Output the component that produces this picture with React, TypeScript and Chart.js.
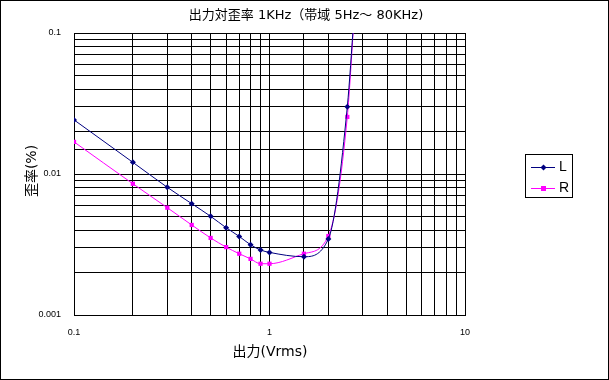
import React, { useEffect, useRef } from "react";
import { Chart, registerables } from "chart.js";

Chart.register(...registerables);

const TITLE = "出力対歪率 1KHz（帯域 5Hz～ 80KHz)";
const X_TITLE = "出力(Vrms)";
const Y_TITLE = "歪率(%)";

const xL = [0.1, 0.2, 0.3, 0.4, 0.5, 0.6, 0.7, 0.8, 0.9, 1.0, 1.5, 2.0, 2.5, 2.7];
const yL = [0.0242, 0.0121, 0.00805, 0.00616, 0.00501, 0.00416, 0.00361, 0.00315, 0.00289, 0.00278, 0.00259, 0.00346, 0.030, 0.125];
const xR = [0.1, 0.2, 0.3, 0.4, 0.5, 0.6, 0.7, 0.8, 0.9, 1.0, 1.5, 2.0, 2.5, 2.7];
const yR = [0.0169, 0.00853, 0.00577, 0.00435, 0.00352, 0.00303, 0.00272, 0.0025, 0.00231, 0.00231, 0.00272, 0.00363, 0.0254, 0.12];

const X_TICKS: [number, string][] = [[0.1, "0.1"], [1, "1"], [10, "10"]];
const Y_TICKS: [number, string][] = [[0.1, "0.1"], [0.01, "0.01"], [0.001, "0.001"]];

const SERIES = [
  { label: "L", xs: xL, ys: yL, color: "#000080", style: "rectRot", radius: 3 },
  { label: "R", xs: xR, ys: yR, color: "#FF00FF", style: "rect", radius: 3 },
];

const TEXT_FONT = '"DejaVu Sans", "Noto Sans CJK JP", sans-serif';

function labelFor(list: [number, string][], v: number): string {
  for (const [val, s] of list) {
    if (Math.abs(v - val) / val < 1e-6) return s;
  }
  return "";
}

const decor = {
  id: "decor",
  afterDraw(chart: any) {
    const ctx = chart.ctx;
    ctx.save();
    // outer frame
    ctx.strokeStyle = "#000";
    ctx.lineWidth = 1;
    ctx.strokeRect(0.5, 0.5, chart.width - 1, chart.height - 1);
    ctx.fillStyle = "#000";
    ctx.textAlign = "center";
    ctx.textBaseline = "middle";
    ctx.font = "13px " + TEXT_FONT;
    ctx.fillText(TITLE, 306, 16);
    ctx.font = "14px " + TEXT_FONT;
    ctx.fillText(X_TITLE, 270, 352);
    ctx.save();
    ctx.translate(32, 171);
    ctx.rotate(-Math.PI / 2);
    ctx.fillText(Y_TITLE, 0, 0);
    ctx.restore();
    // legend
    ctx.strokeRect(525.5, 154.5, 47, 43);
    const rows = [167, 188];
    SERIES.forEach((s, i) => {
      const y = rows[i] + 0.5;
      ctx.strokeStyle = s.color;
      ctx.lineWidth = 1;
      ctx.beginPath();
      ctx.moveTo(531, y);
      ctx.lineTo(555, y);
      ctx.stroke();
      ctx.fillStyle = s.color;
      if (s.style === "rect") {
        ctx.fillRect(541, y - 2.5, 5, 5);
      } else {
        ctx.beginPath();
        ctx.moveTo(543.5, y - 3);
        ctx.lineTo(546.5, y);
        ctx.lineTo(543.5, y + 3);
        ctx.lineTo(540.5, y);
        ctx.closePath();
        ctx.fill();
      }
      ctx.fillStyle = "#000";
      ctx.textAlign = "left";
      ctx.font = '14px "Liberation Sans", Arial, sans-serif';
      ctx.fillText(s.label, 559, y);
    });
    ctx.restore();
  },
};

export default function App() {
  const ref = useRef<HTMLCanvasElement | null>(null);
  useEffect(() => {
    if (!ref.current) return;
    const chart = new Chart(ref.current, {
      type: "line",
      data: {
        datasets: SERIES.map((s) => ({
          label: s.label,
          data: s.xs.map((x, i) => ({ x, y: s.ys[i] })),
          borderColor: s.color,
          backgroundColor: s.color,
          borderWidth: 1,
          pointStyle: s.style as any,
          pointRadius: s.radius,
          pointBorderWidth: 0,
          cubicInterpolationMode: "monotone" as const,
          fill: false,
        })),
      },
      options: {
        responsive: false,
        animation: false,
        events: [],
        layout: { padding: { left: 34, right: 144, top: 33, bottom: 45 } },
        plugins: {
          legend: { display: false },
          title: { display: false },
          tooltip: { enabled: false },
        },
        scales: {
          x: {
            type: "logarithmic",
            min: 0.1,
            max: 10,
            border: { color: "#000", width: 1 },
            grid: { color: "#000", lineWidth: 1, drawTicks: false },
            ticks: {
              autoSkip: false,
              maxRotation: 0,
              color: "#000",
              padding: 12,
              font: { family: '"Liberation Sans", Arial, sans-serif', size: 9 },
              callback: (v: any) => labelFor(X_TICKS, Number(v)),
            },
            afterFit: (s: any) => { s.height = 20; },
          },
          y: {
            type: "logarithmic",
            min: 0.001,
            max: 0.1,
            border: { color: "#000", width: 1 },
            grid: { color: "#000", lineWidth: 1, drawTicks: false },
            ticks: {
              autoSkip: false,
              color: "#000",
              padding: 13,
              font: { family: '"Liberation Sans", Arial, sans-serif', size: 9 },
              callback: (v: any) => labelFor(Y_TICKS, Number(v)),
            },
            afterFit: (s: any) => { s.width = 40; },
          },
        },
      },
      plugins: [decor],
    });
    return () => chart.destroy();
  }, []);
  return (
    <div style={{ position: "fixed", left: 0, top: 0, width: 609, height: 380, background: "#fff" }}>
      <canvas ref={ref} width={609} height={380} style={{ display: "block" }} />
    </div>
  );
}
